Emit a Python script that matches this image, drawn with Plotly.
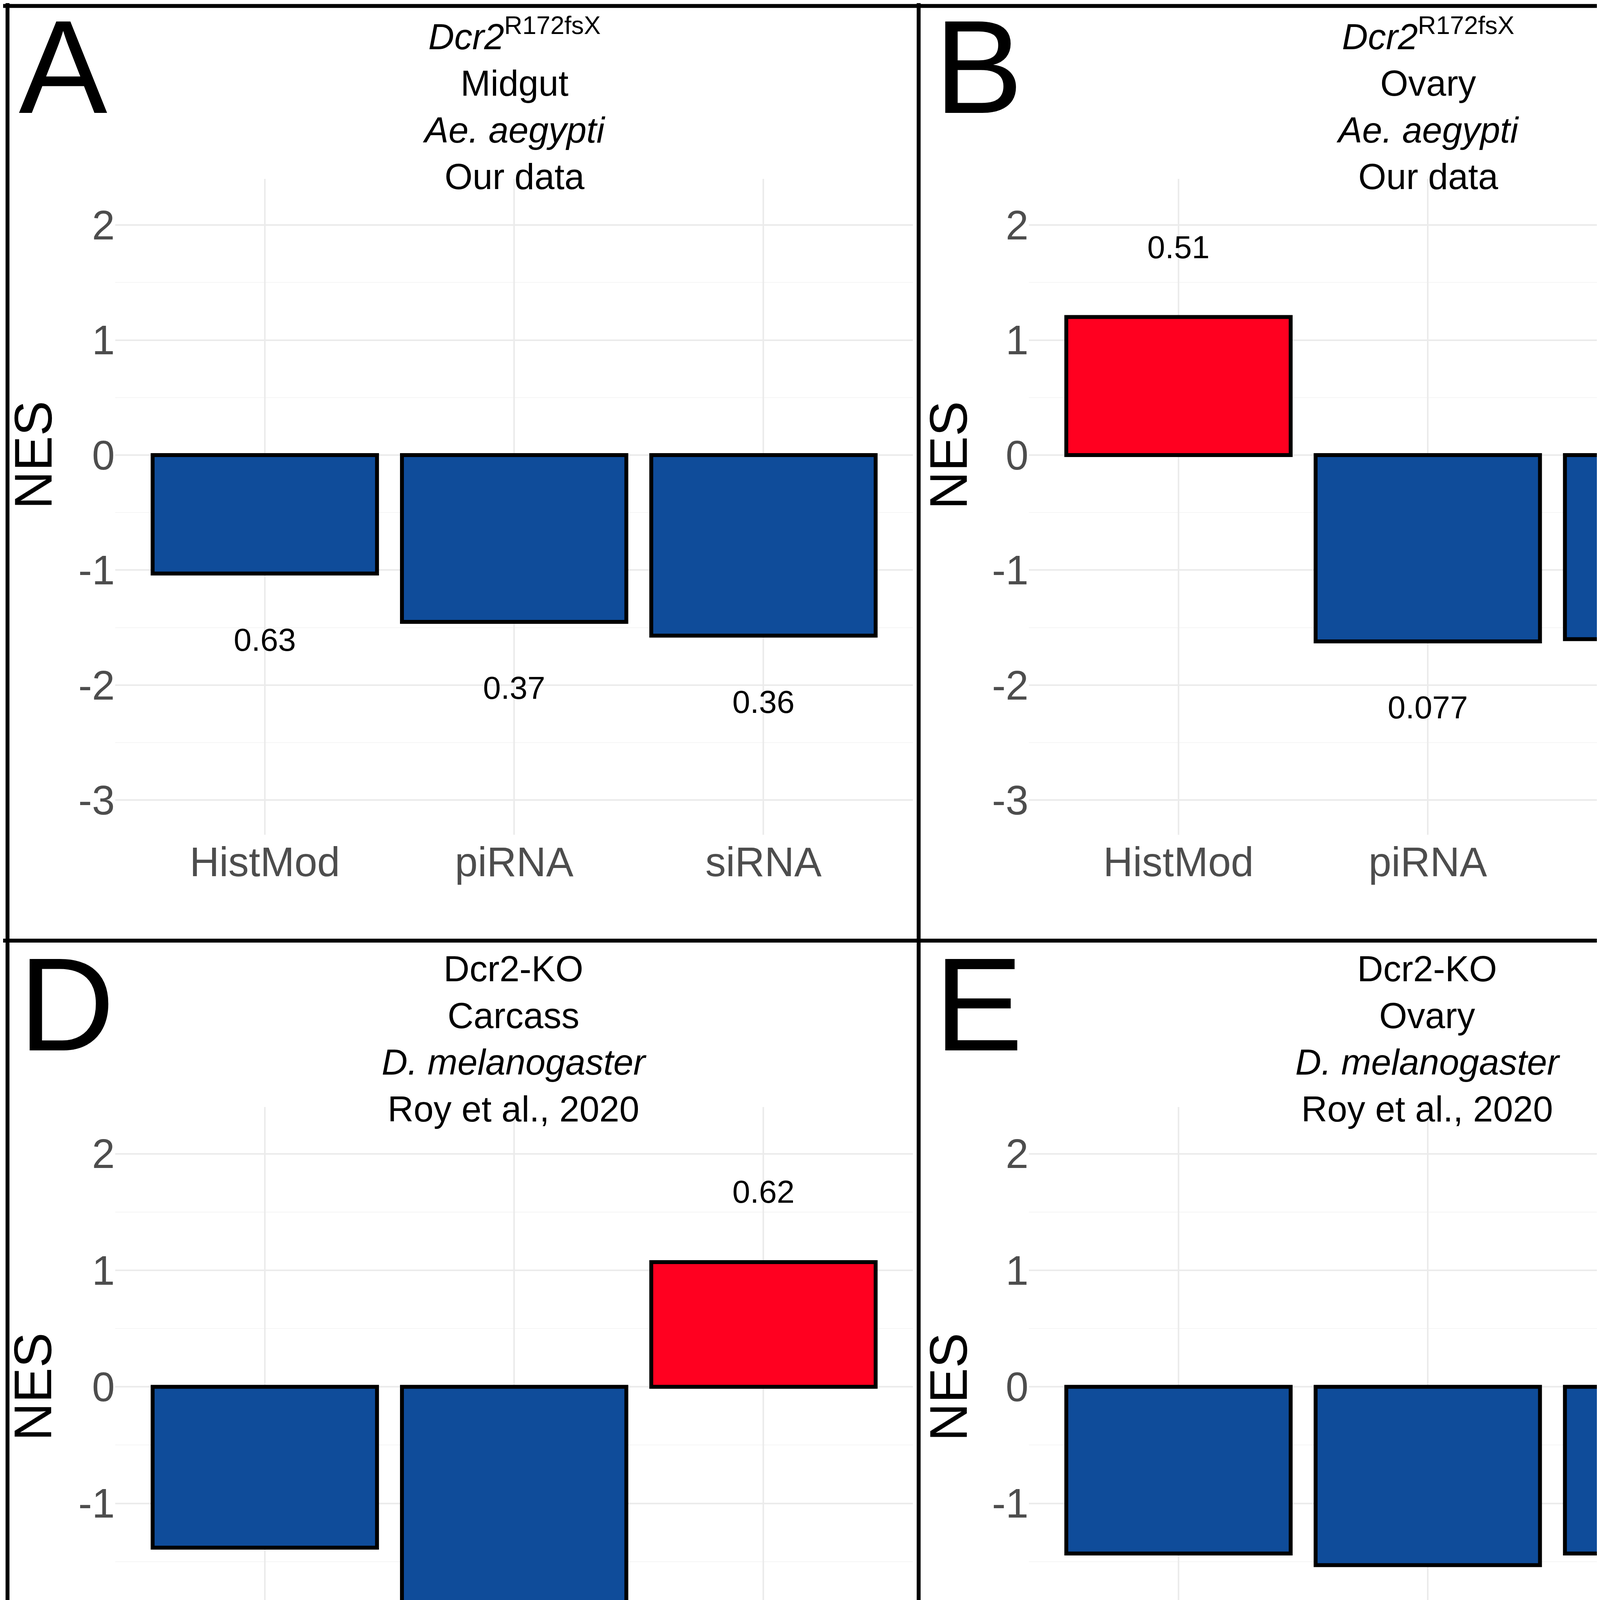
import plotly.graph_objects as go

categories = ["HistMod", "piRNA", "siRNA"]
panel_letters = ["A", "B", "C", "D", "E", "F"]
panel_titles = [
    "<i>Dcr2</i><sup>R172fsX</sup><br>Midgut<br><i>Ae. aegypti</i><br>Our data",
    "<i>Dcr2</i><sup>R172fsX</sup><br>Ovary<br><i>Ae. aegypti</i><br>Our data",
    "Ago2-KO<br>Whole mosq.<br><i>Ae. aegypti</i><br>Dong & Dimopoulos, 2023",
    "Dcr2-KO<br>Carcass<br><i>D. melanogaster</i><br>Roy et al., 2020",
    "Dcr2-KO<br>Ovary<br><i>D. melanogaster</i><br>Roy et al., 2020",
    "Dcr2-KO<br>Head<br><i>D. melanogaster</i><br>van den Beek et al., 2018",
]
y_tickvals = [-3, -2, -1, 0, 1, 2]
y_ticktext = ["-3", "-2", "-1", "0", "1", "2"]
nes_A = [-1.03, -1.45, -1.57]
nes_B = [1.20, -1.62, -1.60]
nes_C = [-2.00, -2.07, -1.53]
nes_D = [-1.38, -1.95, 1.07]
nes_E = [-1.43, -1.53, -1.43]
nes_F = [-1.92, -1.10, -0.97]
pval_A = ["0.63", "0.37", "0.36"]
pval_B = ["0.51", "0.077", "0.11"]
pval_C = ["0.0027", "9.5e-04", "0.16"]
pval_D = ["0.29", "0.0026", "0.62"]
pval_E = ["0.29", "0.29", "0.37"]
pval_F = ["0.013", "0.58", "0.73"]
stars_A = ["", "", ""]
stars_B = ["", "", ""]
stars_C = ["**", "***", ""]
stars_D = ["", "**", ""]
stars_E = ["", "", ""]
stars_F = ["*", "", ""]

nes = [nes_A, nes_B, nes_C, nes_D, nes_E, nes_F]
pvals = [pval_A, pval_B, pval_C, pval_D, pval_E, pval_F]
stars = [stars_A, stars_B, stars_C, stars_D, stars_E, stars_F]

UP = "#FF0020"
DOWN = "#0F4C9A"
W, H = 1568.0, 1004.0
xdom_px = [(60, 487), (549, 976), (1042, 1473)]
ydom = [(0.5565, 0.9062), (0.0569, 0.4112)]
YR = [-3.3, 2.4]

fig = go.Figure()
layout = dict(width=7500, height=4800, plot_bgcolor="white", paper_bgcolor="white",
              margin=dict(l=0, r=0, t=0, b=0), showlegend=True,
              font=dict(family="Liberation Sans, Arial", color="black"))
annotations = []
shapes = []
for i in range(6):
    r, c = divmod(i, 3)
    n = i + 1
    xa = "x" if n == 1 else f"x{n}"
    ya = "y" if n == 1 else f"y{n}"
    x0, x1 = xdom_px[c]
    layout["xaxis" if n == 1 else f"xaxis{n}"] = dict(
        domain=[x0 / W, x1 / W], range=[-0.6, 2.6], type="category",
        categoryorder="array", categoryarray=categories,
        showgrid=True, gridcolor="#ebebeb", gridwidth=4, zeroline=False,
        tickfont=dict(size=105, color="#4d4d4d"), ticks="", anchor=ya, showline=False)
    layout["yaxis" if n == 1 else f"yaxis{n}"] = dict(
        domain=list(ydom[r]), range=YR, tickvals=y_tickvals, ticktext=y_ticktext,
        showgrid=True, gridcolor="#ebebeb", gridwidth=4, zeroline=False,
        minor=dict(tickvals=[-2.5, -1.5, -0.5, 0.5, 1.5], showgrid=True, gridcolor="#f5f5f5", gridwidth=2),
        tickfont=dict(size=105, color="#4d4d4d"), ticks="", anchor=xa, showline=False)
    vals = nes[i]
    colors = [UP if v > 0 else DOWN for v in vals]
    fig.add_trace(go.Bar(x=categories, y=vals, marker=dict(color=colors, line=dict(color="black", width=10)),
                         width=0.9, xaxis=xa, yaxis=ya, showlegend=False, hoverinfo="skip"))
    ly = [v + 0.58 if v > 0 else v - 0.6 for v in vals]
    txt = [f"<b>{p}</b>" if s else p for p, s in zip(pvals[i], stars[i])]
    fig.add_trace(go.Scatter(x=categories, y=ly, mode="text", text=txt, textfont=dict(size=82, color="black"),
                             xaxis=xa, yaxis=ya, showlegend=False, hoverinfo="skip"))
    sx = [cat for cat, s in zip(categories, stars[i]) if s]
    sy = [v - 1.05 for v, s in zip(vals, stars[i]) if s]
    st = [s for s in stars[i] if s]
    if sx:
        fig.add_trace(go.Scatter(x=sx, y=sy, mode="text", text=st, textfont=dict(size=190, color="black"),
                                 xaxis=xa, yaxis=ya, showlegend=False, hoverinfo="skip"))
    cx = (x0 + x1) / 2 / W
    ytop = 1 - (r * 502 + 4) / H
    annotations.append(dict(text=panel_titles[i], x=cx, y=ytop, xref="paper", yref="paper",
                            xanchor="center", yanchor="top", showarrow=False,
                            font=dict(size=92, color="black")))
    annotations.append(dict(text=panel_letters[i], x=(c * 490 + 8) / W, y=1 - (r * 502 - 6) / H,
                            xref="paper", yref="paper", xanchor="left", yanchor="top", showarrow=False,
                            font=dict(size=340, color="black")))
    yc = ydom[r][0] + (ydom[r][1] - ydom[r][0]) * (0 - YR[0]) / (YR[1] - YR[0])
    annotations.append(dict(text="NES", x=(c * 490 + 16) / W, y=yc, xref="paper", yref="paper",
                            xanchor="center", yanchor="middle", textangle=-90, showarrow=False,
                            font=dict(size=135, color="black")))
    if c == 2:
        lg = "legend" if r == 0 else "legend2"
        for name, col in [("Up", UP), ("Down", DOWN)]:
            fig.add_trace(go.Bar(x=[None], y=[None], name=name, marker=dict(color=col, line=dict(color="black", width=8)),
                                 xaxis=xa, yaxis=ya, legend=lg, showlegend=True))
        layout[lg] = dict(x=1480 / W, y=1 - (r * 500 + 234) / H, xanchor="left", yanchor="top",
                          title=dict(text="Direction", font=dict(size=82)), font=dict(size=80),
                          bgcolor="rgba(0,0,0,0)", tracegroupgap=0, itemsizing="constant")

for x in [0.0015, 490 / W, 980 / W, 0.9985]:
    shapes.append(dict(type="line", xref="paper", yref="paper", x0=x, x1=x, y0=0, y1=1,
                       line=dict(color="black", width=10)))
for y in [0.0015, 0.5, 0.9985]:
    shapes.append(dict(type="line", xref="paper", yref="paper", x0=0, x1=1, y0=y, y1=y,
                       line=dict(color="black", width=10)))
layout["annotations"] = annotations
layout["shapes"] = shapes
layout["barmode"] = "overlay"
fig.update_layout(**layout)
fig.write_html("out.html")
